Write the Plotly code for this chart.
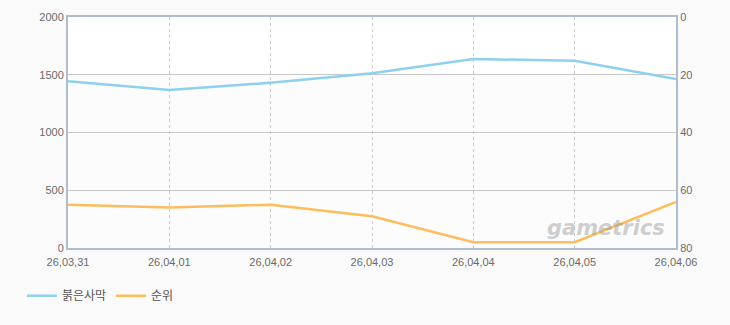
import plotly.graph_objects as go

dates = ["26,03,31", "26,04,01", "26,04,02", "26,04,03", "26,04,04", "26,04,05", "26,04,06"]
share = [1443, 1368, 1431, 1513, 1636, 1622, 1463]
rank = [65, 66, 65, 69, 78, 78, 64]

name_share = "붉은사막"
name_rank = "순위"

fig = go.Figure()
fig.add_trace(go.Scatter(x=dates, y=share, name=name_share, mode="lines",
                         line=dict(color="#8ed0f0", width=2.5), yaxis="y"))
fig.add_trace(go.Scatter(x=dates, y=rank, name=name_rank, mode="lines",
                         line=dict(color="#fdbd5c", width=2.5), yaxis="y2"))

# light band below the 1500 grid line
fig.add_shape(type="rect", xref="paper", yref="y", x0=0, x1=1, y0=0, y1=1500,
              fillcolor="#fcfcfc", line_width=0, layer="below")

font = dict(family="Liberation Sans, Arial, Noto Sans CJK KR", size=11, color="#6a6a6a")

fig.update_layout(
    width=730, height=325,
    margin=dict(l=68, r=54, t=17, b=77),
    paper_bgcolor="#fafafa",
    plot_bgcolor="#ffffff",
    font=font,
    showlegend=True,
    legend=dict(orientation="h", x=0.03, xref="container", y=0.09, yref="container",
                xanchor="left", yanchor="middle",
                font=dict(family="Noto Sans CJK KR", size=12, color="#555555"),
                itemwidth=30, bgcolor="rgba(0,0,0,0)"),
    xaxis=dict(type="category", range=[0, 6], showgrid=True, gridcolor="#cccccc",
               griddash="3px,3px", gridwidth=1, showline=True, linecolor="#aebdd0",
               linewidth=2, mirror=True, ticks="", tickfont=font, zeroline=False,
               ticklabelstandoff=3),
    yaxis=dict(range=[0, 2000], dtick=500, showgrid=True, gridcolor="#c8c8c8",
               gridwidth=1, showline=True, linecolor="#aebdd0", linewidth=2,
               ticks="", tickfont=font, zeroline=False),
    yaxis2=dict(range=[80, 0], dtick=20, overlaying="y", side="right", showgrid=False,
                showline=True, linecolor="#aebdd0", linewidth=2, ticks="",
                tickfont=font, zeroline=False),
)

fig.add_annotation(text="<b><i>gametrics</i></b>", xref="paper", yref="paper",
                   x=0.985, y=0.085, xanchor="right", yanchor="middle", showarrow=False,
                   font=dict(family="DejaVu Sans", size=21, color="rgba(160,160,160,0.5)"))

fig.write_html("out.html")
